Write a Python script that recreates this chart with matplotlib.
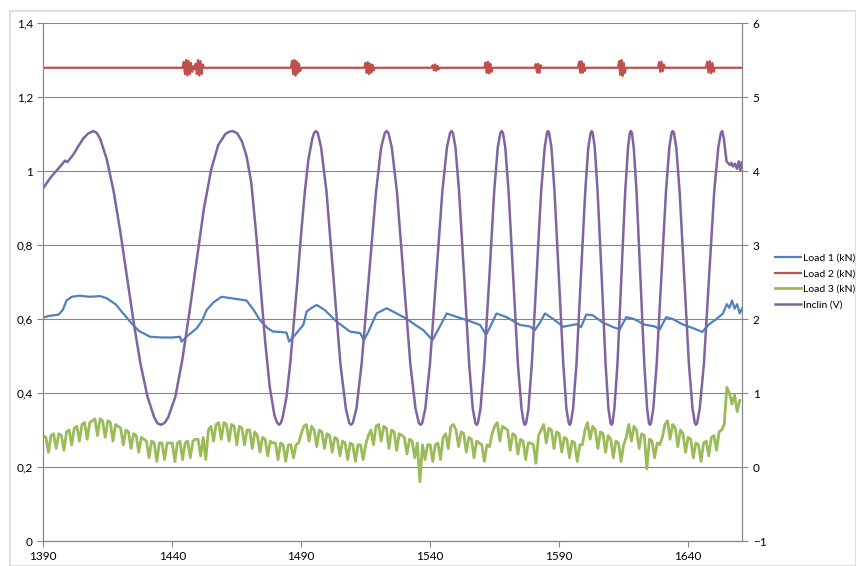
import matplotlib
matplotlib.use("Agg")
import matplotlib.pyplot as plt
import matplotlib.patches as mpatches
import numpy as np

plt.rcParams['font.family'] = ['Lato', 'DejaVu Sans']

# ---- data ----
# Load 1 (kN), primary axis
load1_x = [1390, 1392, 1394, 1396, 1397.6, 1399, 1401, 1404, 1408, 1412, 1414.6, 1418, 1421,
           1424, 1427, 1431.4, 1436, 1440, 1443, 1443.6, 1446, 1449.5, 1451.5, 1453.3, 1456,
           1459.1, 1463, 1468.8, 1471.5, 1474, 1477, 1479.1, 1482, 1484.3, 1485.3, 1487,
           1490.8, 1492.1, 1494, 1496, 1499, 1503.7, 1508.9, 1512.8, 1514.3, 1516, 1519.2,
           1523.1, 1527, 1531, 1534, 1537.3, 1540.9, 1543, 1546.4, 1550.2, 1555, 1559.3,
           1560.6, 1561.6, 1563, 1565.7, 1569.6, 1574.8, 1578.6, 1580.6, 1582.5, 1584.5,
           1587.7, 1591.6, 1596.7, 1598.5, 1600.5, 1603, 1607, 1611, 1613.5, 1616, 1619,
           1623, 1627, 1629, 1631.5, 1634, 1638, 1642, 1645.5, 1648, 1651, 1653.5, 1655,
           1656, 1657, 1658, 1659, 1660, 1661]
load1_y = [0.604, 0.608, 0.610, 0.612, 0.625, 0.650, 0.660, 0.663, 0.660, 0.662, 0.656, 0.640,
           0.615, 0.590, 0.568, 0.552, 0.550, 0.550, 0.552, 0.539, 0.555, 0.575, 0.595, 0.624,
           0.645, 0.660, 0.656, 0.650, 0.625, 0.597, 0.575, 0.566, 0.565, 0.563, 0.539, 0.552,
           0.584, 0.620, 0.630, 0.638, 0.625, 0.593, 0.566, 0.562, 0.543, 0.565, 0.615,
           0.629, 0.615, 0.600, 0.585, 0.570, 0.543, 0.570, 0.615, 0.606, 0.595, 0.584,
           0.570, 0.557, 0.575, 0.615, 0.605, 0.584, 0.580, 0.570, 0.590, 0.615,
           0.600, 0.579, 0.586, 0.578, 0.612, 0.610, 0.590, 0.578, 0.572, 0.605, 0.600,
           0.585, 0.580, 0.572, 0.605, 0.600, 0.585, 0.575, 0.565, 0.585, 0.600, 0.615, 0.640,
           0.630, 0.650, 0.628, 0.640, 0.615, 0.630]

# Load 2 (kN): flat level with short bursts (start, end, values)
load2_level = 1.279
load2_bursts = [
    (1444.0, 1452.3, [1.279, 1.295, 1.262, 1.300, 1.258, 1.298, 1.262, 1.292, 1.268, 1.283,
                      1.275, 1.290, 1.262, 1.300, 1.258, 1.297, 1.262, 1.288, 1.279]),
    (1486.0, 1490.0, [1.279, 1.298, 1.262, 1.300, 1.258, 1.296, 1.265, 1.290, 1.270, 1.279]),
    (1514.5, 1518.5, [1.279, 1.292, 1.265, 1.294, 1.262, 1.290, 1.266, 1.287, 1.272, 1.279]),
    (1540.5, 1543.8, [1.279, 1.286, 1.272, 1.288, 1.271, 1.284, 1.275, 1.279]),
    (1561.0, 1564.2, [1.279, 1.293, 1.265, 1.295, 1.264, 1.290, 1.268, 1.279]),
    (1580.5, 1583.2, [1.279, 1.289, 1.266, 1.290, 1.265, 1.286, 1.279]),
    (1597.3, 1600.3, [1.279, 1.295, 1.266, 1.297, 1.265, 1.290, 1.270, 1.279]),
    (1612.8, 1615.9, [1.279, 1.297, 1.260, 1.300, 1.257, 1.292, 1.265, 1.279]),
    (1628.3, 1631.0, [1.279, 1.294, 1.268, 1.296, 1.270, 1.288, 1.279]),
    (1646.9, 1650.4, [1.279, 1.295, 1.266, 1.297, 1.264, 1.292, 1.268, 1.279]),
]

# Load 3 (kN), one value per second from 1390 (rows of 10 s)
load3_start = 1390
load3_step = 1
load3_y = [0.285, 0.28, 0.24, 0.285, 0.29, 0.25, 0.29, 0.285, 0.245, 0.295,
           0.30, 0.26, 0.305, 0.31, 0.27, 0.315, 0.32, 0.275, 0.32, 0.325,
           0.33, 0.285, 0.33, 0.325, 0.28, 0.325, 0.32, 0.27, 0.315, 0.31,
           0.305, 0.26, 0.30, 0.295, 0.25, 0.29, 0.285, 0.24, 0.28, 0.275,
           0.27, 0.225, 0.27, 0.265, 0.215, 0.265, 0.265, 0.22, 0.265, 0.265,
           0.265, 0.215, 0.265, 0.27, 0.22, 0.265, 0.27, 0.225, 0.27, 0.275,
           0.275, 0.23, 0.28, 0.22, 0.30, 0.31, 0.27, 0.315, 0.32, 0.275,
           0.32, 0.315, 0.27, 0.315, 0.31, 0.26, 0.31, 0.305, 0.26, 0.30,
           0.30, 0.25, 0.295, 0.285, 0.24, 0.28, 0.275, 0.23, 0.27, 0.265,
           0.265, 0.22, 0.265, 0.26, 0.215, 0.26, 0.26, 0.225, 0.26, 0.265,
           0.29, 0.31, 0.315, 0.27, 0.31, 0.30, 0.255, 0.30, 0.295, 0.25,
           0.29, 0.285, 0.24, 0.28, 0.275, 0.23, 0.27, 0.265, 0.22, 0.265,
           0.26, 0.215, 0.26, 0.26, 0.22, 0.26, 0.285, 0.30, 0.26, 0.31,
           0.315, 0.27, 0.31, 0.305, 0.25, 0.30, 0.295, 0.245, 0.29, 0.285,
           0.28, 0.235, 0.275, 0.27, 0.225, 0.265, 0.16, 0.26, 0.22, 0.26,
           0.26, 0.215, 0.26, 0.265, 0.22, 0.28, 0.29, 0.25, 0.31, 0.315,
           0.30, 0.255, 0.295, 0.29, 0.24, 0.28, 0.275, 0.225, 0.27, 0.265,
           0.26, 0.215, 0.26, 0.255, 0.29, 0.31, 0.32, 0.27, 0.31, 0.305,
           0.30, 0.245, 0.29, 0.285, 0.235, 0.275, 0.27, 0.22, 0.265, 0.265,
           0.26, 0.21, 0.285, 0.30, 0.315, 0.265, 0.305, 0.30, 0.25, 0.295,
           0.29, 0.24, 0.28, 0.275, 0.225, 0.27, 0.265, 0.215, 0.26, 0.26,
           0.30, 0.32, 0.275, 0.31, 0.30, 0.25, 0.295, 0.29, 0.24, 0.285,
           0.275, 0.225, 0.27, 0.265, 0.215, 0.26, 0.28, 0.315, 0.27, 0.31,
           0.30, 0.25, 0.29, 0.285, 0.195, 0.275, 0.27, 0.225, 0.265, 0.26,
           0.28, 0.315, 0.325, 0.275, 0.315, 0.305, 0.255, 0.30, 0.29, 0.24,
           0.28, 0.275, 0.225, 0.265, 0.26, 0.215, 0.265, 0.27, 0.23, 0.28,
           0.285, 0.245, 0.295, 0.30, 0.315, 0.415, 0.40, 0.37, 0.395, 0.35,
           0.38]

# Inclin (V), secondary axis
inclin_x = [1390, 1393, 1396.5, 1398.4, 1399.3, 1401.6, 1403.5, 1405.5, 1407.5,
            1409.4, 1410.7, 1412.0, 1414.6, 1417.3, 1419.9, 1422.5, 1425.1, 1427.7, 1430.4, 1433.0, 1434.3,
            1435.6, 1437.0, 1438.4, 1441.2, 1443.9, 1446.7, 1449.5, 1452.3, 1455.1, 1457.8, 1460.6, 1462.0,
            1463.4, 1465.2, 1467.0, 1468.8, 1470.6, 1472.4, 1474.2, 1476.0, 1477.8, 1479.6, 1480.5,
            1481.4, 1482.1, 1482.8, 1484.3, 1485.7, 1487.1, 1488.6, 1490.0, 1491.4, 1492.8, 1494.3, 1495.0,
            1495.7, 1496.4, 1497.7, 1499.8, 1502.5, 1505.2, 1507.3, 1508.6,
            1509.3, 1510.0, 1511.4, 1513.4, 1516.2, 1519.0, 1521.0, 1522.4,
            1523.1, 1523.8, 1525.1, 1527.1, 1529.7, 1532.3, 1534.3, 1535.6,
            1536.3, 1536.9, 1538.1, 1539.9, 1542.3, 1544.7, 1546.5, 1547.7,
            1548.3, 1548.8, 1549.8, 1551.2, 1553.2, 1555.1, 1556.5, 1557.5,
            1558.0, 1558.5, 1559.5, 1560.9, 1562.9, 1564.8, 1566.2, 1567.2,
            1567.7, 1568.2, 1569.1, 1570.4, 1572.2, 1574.0, 1575.4, 1576.3,
            1576.7, 1577.2, 1578.1, 1579.4, 1581.2, 1583.0, 1584.4, 1585.3,
            1585.7, 1586.1, 1587.0, 1588.2, 1589.9, 1591.6, 1592.8, 1593.7,
            1594.1, 1594.5, 1595.4, 1596.7, 1598.4, 1600.1, 1601.3, 1602.2,
            1602.6, 1603.0, 1603.8, 1604.9, 1606.5, 1608.0, 1609.1, 1609.9,
            1610.3, 1610.7, 1611.4, 1612.6, 1614.1, 1615.6, 1616.7, 1617.4,
            1617.8, 1618.2, 1618.9, 1620.0, 1621.5, 1623.0, 1624.1, 1624.8,
            1625.2, 1625.6, 1626.5, 1627.8, 1629.6, 1631.4, 1632.7, 1633.6,
            1634.0, 1634.5, 1635.4, 1636.7, 1638.5, 1640.3, 1641.7, 1642.6,
            1643.0, 1643.5, 1644.5, 1646.1, 1648.1, 1650.1, 1651.7, 1652.7,
            1653.2, 1653.8, 1654.4, 1654.9, 1656.2, 1656.8, 1657.4, 1658.1, 1658.9, 1659.6,
            1660.2, 1660.8]
inclin_y = [3.77, 3.92, 4.06, 4.14, 4.12, 4.22, 4.33, 4.44, 4.51,
            4.54, 4.515, 4.44, 4.16, 3.72, 3.17, 2.55, 1.94, 1.39, 0.95, 0.67, 0.59,
            0.57, 0.595, 0.67, 0.95, 1.45, 2.1, 2.8, 3.5, 4.02, 4.35, 4.50, 4.53,
            4.54, 4.51, 4.40, 4.20, 3.85, 3.2, 2.45, 1.7, 1.08, 0.70, 0.61,
            0.57, 0.595, 0.67, 0.95, 1.39, 1.94, 2.55, 3.17, 3.72, 4.16, 4.44, 4.515,
            4.54, 4.515, 4.32, 3.72, 2.55, 1.39, 0.79, 0.595,
            0.57, 0.595, 0.79, 1.39, 2.55, 3.72, 4.32, 4.515,
            4.54, 4.515, 4.32, 3.72, 2.55, 1.39, 0.79, 0.595,
            0.57, 0.595, 0.79, 1.39, 2.55, 3.72, 4.32, 4.515,
            4.54, 4.515, 4.32, 3.72, 2.55, 1.39, 0.79, 0.595,
            0.57, 0.595, 0.79, 1.39, 2.55, 3.72, 4.32, 4.515,
            4.54, 4.515, 4.32, 3.72, 2.55, 1.39, 0.79, 0.595,
            0.57, 0.595, 0.79, 1.39, 2.55, 3.72, 4.32, 4.515,
            4.54, 4.515, 4.32, 3.72, 2.55, 1.39, 0.79, 0.595,
            0.57, 0.595, 0.79, 1.39, 2.55, 3.72, 4.32, 4.515,
            4.54, 4.515, 4.32, 3.72, 2.55, 1.39, 0.79, 0.595,
            0.57, 0.595, 0.79, 1.39, 2.55, 3.72, 4.32, 4.515,
            4.54, 4.515, 4.32, 3.72, 2.55, 1.39, 0.79, 0.595,
            0.57, 0.595, 0.79, 1.39, 2.55, 3.72, 4.32, 4.515,
            4.54, 4.515, 4.32, 3.72, 2.55, 1.39, 0.79, 0.595,
            0.57, 0.595, 0.79, 1.39, 2.55, 3.72, 4.32, 4.515,
            4.54, 4.45, 4.28, 4.13, 4.08, 4.11, 4.06, 4.10, 4.03, 4.13,
            4.005, 4.12]

x_ticks = [1390, 1440, 1490, 1540, 1590, 1640]
left_ticks = [0, 0.2, 0.4, 0.6, 0.8, 1.0, 1.2, 1.4]
right_ticks = [-1, 0, 1, 2, 3, 4, 5, 6]
series_names = ['Load 1 (kN)', 'Load 2 (kN)', 'Load 3 (kN)', 'Inclin (V)']
colors = ['#4F81BD', '#C0504D', '#9BBB59', '#8064A2']

# ---- build Load 2 polyline ----
load2_x, load2_y = [1390], [load2_level]
for x0, x1, vals in load2_bursts:
    load2_x += list(np.linspace(x0, x1, len(vals)))
    load2_y += vals
load2_x.append(1661)
load2_y.append(load2_level)

load3_x = load3_start + load3_step * np.arange(len(load3_y))

# ---- figure ----
W, H = 856, 566
fig = plt.figure(figsize=(W / 100, H / 100), dpi=100)
left, right, top, bottom = 43.3, 742.3, 23, 541
ax = fig.add_axes([left / W, 1 - bottom / H, (right - left) / W, (bottom - top) / H])
ax2 = ax.twinx()

grid_c = '#868686'
ax.set_xlim(1390, 1661)
ax.set_ylim(0, 1.4)
ax2.set_ylim(-1, 6)
ax.set_xticks(x_ticks)
ax.set_yticks(left_ticks)
ax.set_yticklabels([f"{v:g}".replace('.', ',') for v in left_ticks])
ax2.set_yticks(right_ticks)
ax.yaxis.grid(True, color=grid_c, linewidth=0.8)
ax.set_axisbelow(True)

for a in (ax, ax2):
    a.spines['top'].set_visible(False)
    for s in ('left', 'right', 'bottom'):
        a.spines[s].set_color(grid_c)
        a.spines[s].set_linewidth(0.8)
    a.tick_params(colors=grid_c, labelcolor='black', labelsize=8.5, length=4, width=0.8)
ax.tick_params(axis='x', pad=3)

l1, = ax.plot(load1_x, load1_y, color=colors[0], lw=1.6, solid_joinstyle='round')
l2, = ax.plot(load2_x, load2_y, color=colors[1], lw=1.6, solid_joinstyle='round')
l3, = ax.plot(load3_x, load3_y, color=colors[2], lw=2.0, solid_joinstyle='round')
l4, = ax2.plot(inclin_x, inclin_y, color=colors[3], lw=1.8, solid_joinstyle='round')

fig.legend([l1, l2, l3, l4], series_names, loc='upper left',
           bbox_to_anchor=(770 / W, 1 - 248 / H), frameon=False, fontsize=7.5,
           handlelength=2.5, handletextpad=0.15, labelspacing=0.62, borderpad=0)

# chart area border
fig.patches.append(mpatches.Rectangle((10 / W, 0), 1 - 10 / W, 1 - 11 / H,
                                      transform=fig.transFigure, fill=False,
                                      edgecolor='#d9d9d9', linewidth=1.2))

fig.savefig('out.png', dpi=100)
